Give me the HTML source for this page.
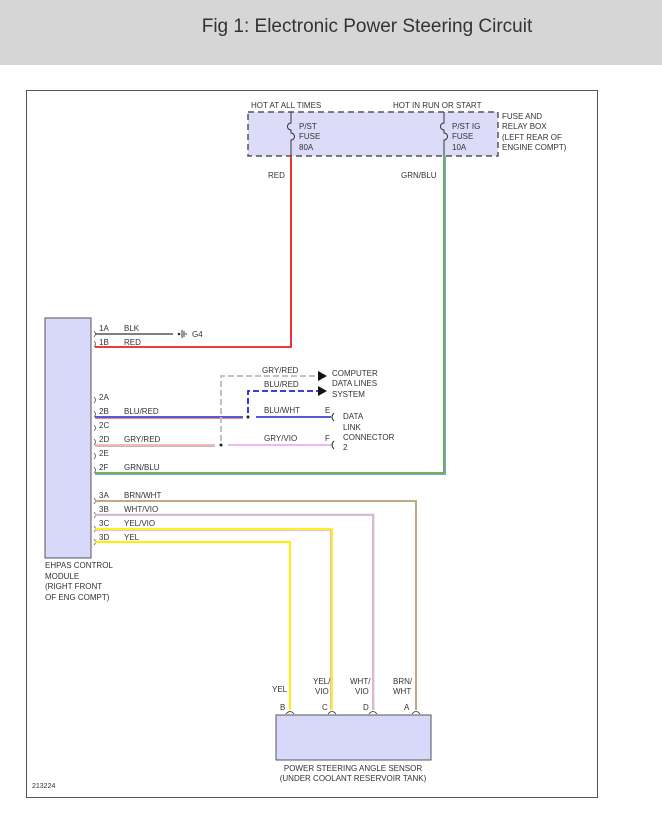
<!DOCTYPE html>
<html><head><style>
body{margin:0;background:#fff;}
svg text{font-family:"Liberation Sans",sans-serif;font-size:8px;fill:#333;}
</style></head><body>
<svg width="662" height="812" xmlns="http://www.w3.org/2000/svg">
<rect x="0" y="0" width="662" height="65" fill="#d6d6d6"/>
<text x="367" y="32" text-anchor="middle" style="font-size:19px;fill:#333">Fig 1: Electronic Power Steering Circuit</text>
<rect x="26.5" y="90.5" width="571" height="707" fill="none" stroke="#555" stroke-width="1"/>
<!-- fuse box -->
<rect x="248" y="112" width="250" height="44" fill="#dcdcf8" stroke="#555" stroke-width="1.5" stroke-dasharray="6,4"/>
<text x="251" y="108">HOT AT ALL TIMES</text>
<text x="393" y="108">HOT IN RUN OR START</text>
<text x="502" y="119">FUSE AND</text>
<text x="502" y="129">RELAY BOX</text>
<text x="502" y="140">(LEFT REAR OF</text>
<text x="502" y="150">ENGINE COMPT)</text>
<path d="M291 112 V123 a3 3 0 0 0 0 7 V133 a3 3 0 0 1 0 7 V156" fill="none" stroke="#333"/>
<path d="M444 112 V123 a3 3 0 0 0 0 7 V133 a3 3 0 0 1 0 7 V156" fill="none" stroke="#333"/>
<text x="299" y="129">P/ST</text><text x="299" y="139">FUSE</text><text x="299" y="150">80A</text>
<text x="452" y="129">P/ST IG</text><text x="452" y="139">FUSE</text><text x="452" y="150">10A</text>
<text x="268" y="178">RED</text>
<text x="401" y="178">GRN/BLU</text>
<!-- module -->
<rect x="45" y="318" width="46" height="240" fill="#d8d8fa" stroke="#555"/>
<text x="45" y="568">EHPAS CONTROL</text><text x="45" y="579">MODULE</text>
<text x="45" y="589">(RIGHT FRONT</text><text x="45" y="600">OF ENG COMPT)</text>
<g fill="none" stroke="#555" stroke-width="0.8">
<path d="M94 331 q3 3 0 6"/><path d="M94 341 q3 3 0 6"/>
<path d="M94 397 q3 3 0 6"/><path d="M94 411 q3 3 0 6"/><path d="M94 425 q3 3 0 6"/>
<path d="M94 439 q3 3 0 6"/><path d="M94 453 q3 3 0 6"/><path d="M94 467 q3 3 0 6"/>
<path d="M94 498 q3 3 0 6"/><path d="M94 512 q3 3 0 6"/><path d="M94 526 q3 3 0 6"/><path d="M94 539 q3 3 0 6"/>
</g>
<text x="99" y="331">1A</text><text x="124" y="331">BLK</text>
<text x="99" y="345">1B</text><text x="124" y="345">RED</text>
<text x="99" y="400">2A</text>
<text x="99" y="414">2B</text><text x="124" y="414">BLU/RED</text>
<text x="99" y="428">2C</text>
<text x="99" y="442">2D</text><text x="124" y="442">GRY/RED</text>
<text x="99" y="456">2E</text>
<text x="99" y="470">2F</text><text x="124" y="470">GRN/BLU</text>
<text x="99" y="498">3A</text><text x="124" y="498">BRN/WHT</text>
<text x="99" y="512">3B</text><text x="124" y="512">WHT/VIO</text>
<text x="99" y="526">3C</text><text x="124" y="526">YEL/VIO</text>
<text x="99" y="540">3D</text><text x="124" y="540">YEL</text>
<!-- wires -->
<line x1="95" y1="334" x2="173" y2="334" stroke="#555" stroke-width="1.5"/>
<circle cx="179" cy="334" r="1.3" fill="#333"/>
<line x1="182" y1="330" x2="182" y2="338" stroke="#333"/><line x1="184" y1="331" x2="184" y2="337" stroke="#333"/><line x1="186" y1="333" x2="186" y2="335" stroke="#333"/>
<text x="192" y="337">G4</text>
<path d="M95 347 H291 V156" fill="none" stroke="#e82020" stroke-width="1.8"/>
<path d="M95 473 H444 V156" fill="none" stroke="#5aaa4a" stroke-width="1.8"/>
<path d="M95 474.5 H445.5 V156" fill="none" stroke="#8899dd" stroke-width="1"/>
<line x1="95" y1="417" x2="243" y2="417" stroke="#2222cc" stroke-width="1.5"/>
<line x1="95" y1="418.5" x2="243" y2="418.5" stroke="#ee8888" stroke-width="1"/>
<circle cx="248" cy="417" r="1.5" fill="#222"/>
<line x1="256" y1="417" x2="331" y2="417" stroke="#2222cc" stroke-width="1.5"/>
<text x="264" y="413">BLU/WHT</text><text x="325" y="413">E</text>
<path d="M334 413 q-4 4 0 8" fill="none" stroke="#333"/>
<path d="M248 413 V391 H318" fill="none" stroke="#2222dd" stroke-width="1.8" stroke-dasharray="6,3"/>
<path d="M318 386 L327 391 L318 396Z" fill="#111"/>
<text x="264" y="387">BLU/RED</text>
<line x1="95" y1="445" x2="215" y2="445" stroke="#f0a0a0" stroke-width="1.5"/>
<line x1="95" y1="446.5" x2="215" y2="446.5" stroke="#bbb" stroke-width="1"/>
<circle cx="221" cy="445" r="1.5" fill="#222"/>
<line x1="228" y1="445" x2="331" y2="445" stroke="#e8a0ee" stroke-width="1.5"/>
<text x="264" y="441">GRY/VIO</text><text x="325" y="441">F</text>
<path d="M334 441 q-4 4 0 8" fill="none" stroke="#333"/>
<path d="M221 441 V376 H318" fill="none" stroke="#bbb" stroke-width="1.8" stroke-dasharray="6,3"/>
<path d="M318 371 L327 376 L318 381Z" fill="#111"/>
<text x="262" y="373">GRY/RED</text>
<text x="332" y="376">COMPUTER</text><text x="332" y="386">DATA LINES</text><text x="332" y="397">SYSTEM</text>
<text x="343" y="419">DATA</text><text x="343" y="430">LINK</text><text x="343" y="440">CONNECTOR</text><text x="343" y="450">2</text>
<path d="M95 501 H416 V710" fill="none" stroke="#b8a070" stroke-width="1.8"/>
<path d="M95 515 H373 V710" fill="none" stroke="#ddaadd" stroke-width="1.8"/>
<path d="M95 514 H374 V710" fill="none" stroke="#ccc" stroke-width="0.8"/>
<path d="M95 529 H332 V710" fill="none" stroke="#ffee00" stroke-width="1.8"/>
<path d="M95 530.5 H330.5 V710" fill="none" stroke="#cc88cc" stroke-width="0.6"/>
<path d="M95 542 H290 V710" fill="none" stroke="#ffee00" stroke-width="2"/>
<!-- sensor -->
<text x="272" y="692">YEL</text>
<text x="313" y="684">YEL/</text><text x="315" y="694">VIO</text>
<text x="350" y="684">WHT/</text><text x="355" y="694">VIO</text>
<text x="393" y="684">BRN/</text><text x="393" y="694">WHT</text>
<text x="280" y="710">B</text><text x="322" y="710">C</text><text x="363" y="710">D</text><text x="404" y="710">A</text>
<g fill="none" stroke="#333" stroke-width="0.8">
<path d="M286 714 q4 -5 8 0"/><path d="M328 714 q4 -5 8 0"/><path d="M369 714 q4 -5 8 0"/><path d="M412 714 q4 -5 8 0"/>
</g>
<rect x="276" y="715" width="155" height="45" fill="#d8d8fa" stroke="#555"/>
<text x="353" y="771" text-anchor="middle">POWER STEERING ANGLE SENSOR</text>
<text x="353" y="781" text-anchor="middle">(UNDER COOLANT RESERVOIR TANK)</text>
<text x="32" y="788" style="font-size:7px">213224</text>
</svg>
</body></html>
